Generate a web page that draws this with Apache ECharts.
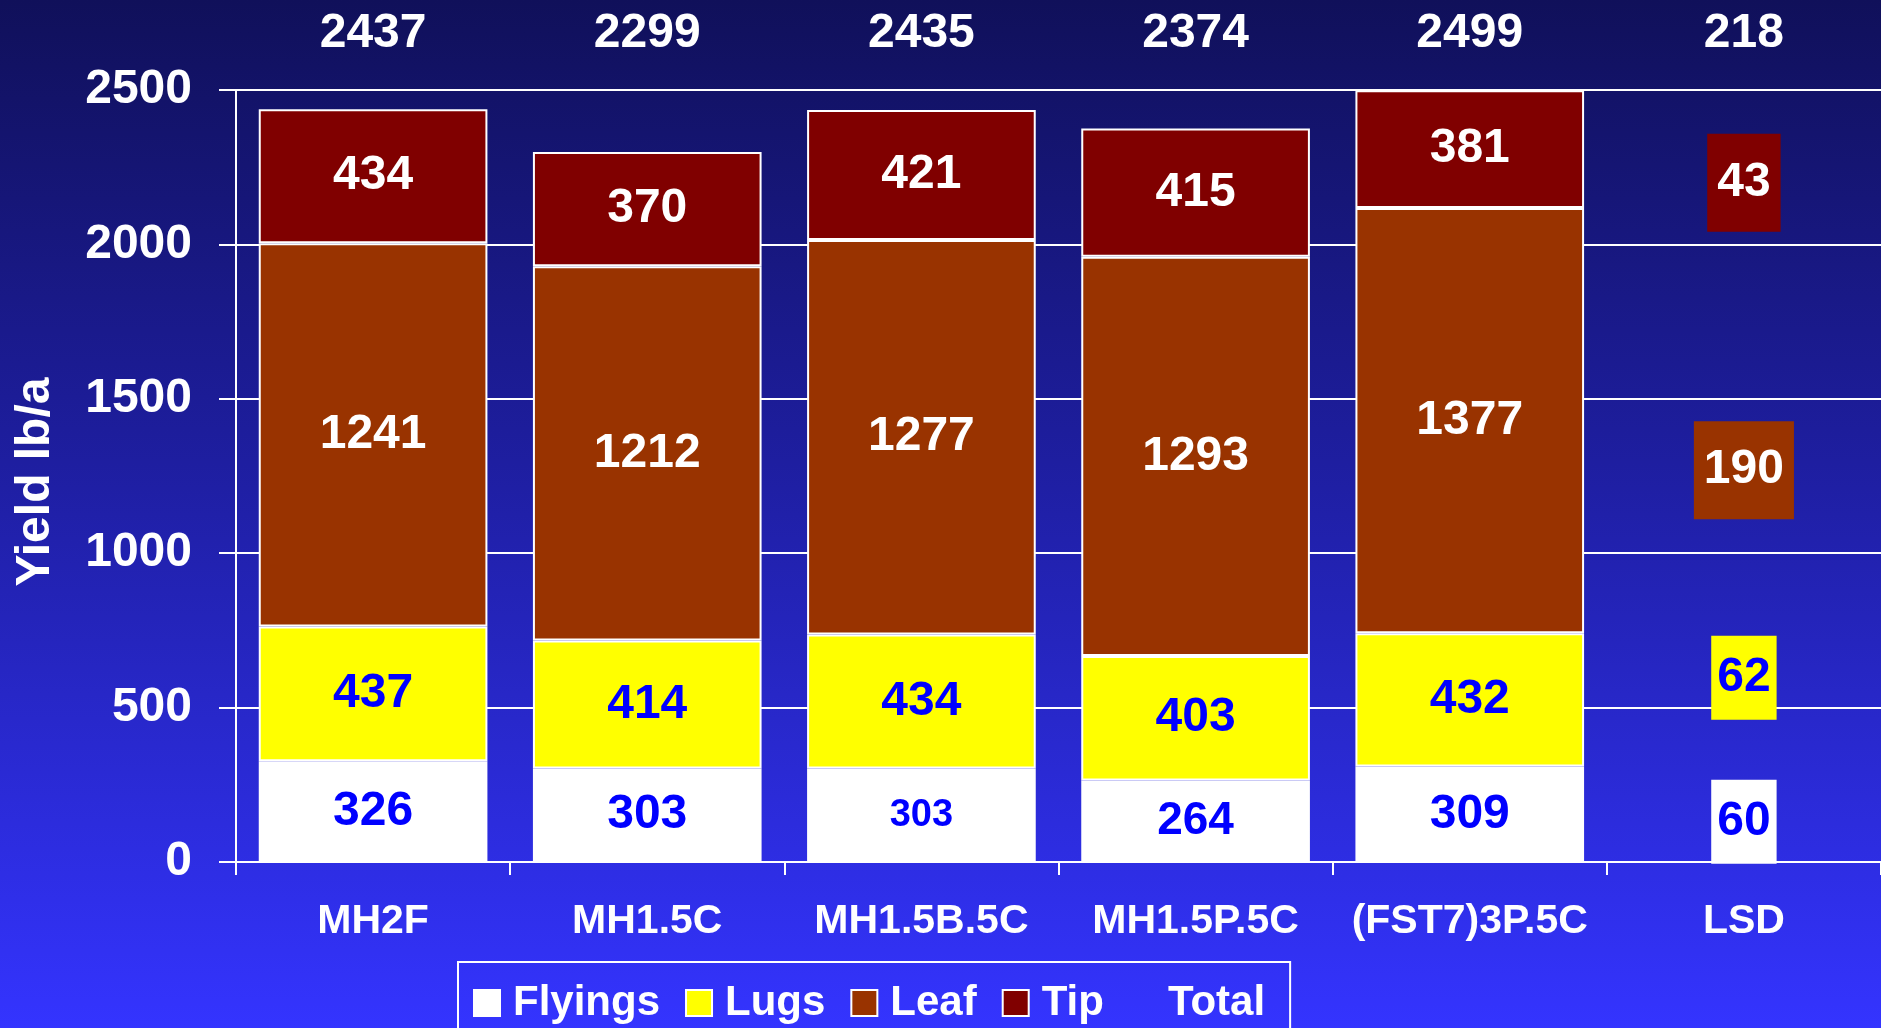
<!DOCTYPE html>
<html>
<head>
<meta charset="utf-8">
<script src="https://cdn.jsdelivr.net/npm/echarts@6/dist/echarts.min.js"></script>
<style>
  html, body { margin: 0; padding: 0; width: 100%; height: 100%; overflow: hidden; }
  body { background: linear-gradient(to bottom, #10105A 0%, #1E1EA0 45%, #3434FF 100%); }
  #chart { width: 1881px; height: 1028px; }
</style>
</head>
<body>
<div id="chart"></div>
<script>
// ---- data ----
const categories = ['MH2F', 'MH1.5C', 'MH1.5B.5C', 'MH1.5P.5C', '(FST7)3P.5C', 'LSD'];
const flyings = [326, 303, 303, 264, 309];
const lugs    = [437, 414, 434, 403, 432];
const leaf    = [1241, 1212, 1277, 1293, 1377];
const tip     = [434, 370, 421, 415, 381];
const totals  = [2437, 2299, 2435, 2374, 2499, 218];
const lsd     = [60, 62, 190, 43];   // LSD for Flyings, Lugs, Leaf, Tip
const yTicks  = { min: 0, max: 2500, interval: 500 };

// ---- layout (label anchor heights for the LSD boxes, in axis units) ----
const lsdLabelAt = [130, 597, 1269, 2200];
const lsdPadding = [[18, 6], [18, 6], [25, 10], [25, 10]];

const FONT = "'Liberation Sans', Arial, sans-serif";
const colors = { Flyings: '#FFFFFF', Lugs: '#FFFF00', Leaf: '#993300', Tip: '#800000' };
const labelColors = { Flyings: '#0000FF', Lugs: '#0000FF', Leaf: '#FFFFFF', Tip: '#FFFFFF' };
const labelSize = { Flyings: [48, 48, 38, 46, 48], Lugs: [48,48,48,48,48], Leaf: [48,48,48,48,48], Tip: [48,48,48,48,48] };

function barSeries(name, values) {
  return {
    name: name,
    type: 'bar',
    stack: 'yield',
    barWidth: '83.4%',
    itemStyle: { color: colors[name], borderColor: '#FFFFFF', borderWidth: 2 },
    label: {
      show: true, position: 'inside', color: labelColors[name],
      fontFamily: FONT, fontWeight: 'bold', fontSize: 48
    },
    data: values.map((v, i) => ({
      value: v,
      label: { fontSize: labelSize[name][i] }
    })).concat(['-'])
  };
}

const lsdNames = ['Flyings', 'Lugs', 'Leaf', 'Tip'];
const lsdSeries = {
  name: 'LSDvals',
  type: 'scatter',
  symbolSize: 0,
  silent: true,
  clip: false,
  itemStyle: { opacity: 1 },
  data: lsd.map((v, i) => ({
    value: [categories.length - 1, lsdLabelAt[i]],
    label: {
      show: true, position: 'inside',
      formatter: String(v),
      color: labelColors[lsdNames[i]],
      backgroundColor: colors[lsdNames[i]],
      padding: lsdPadding[i],
      lineHeight: 48,
      opacity: 1,
      fontFamily: FONT, fontWeight: 'bold', fontSize: 48
    }
  }))
};

const totalSeries = {
  name: 'Total',
  type: 'scatter',
  xAxisIndex: 1,
  symbolSize: 0,
  silent: true,
  itemStyle: { color: 'rgba(0,0,0,0)' },
  data: totals.map((v, i) => [i, v])
};

const chart = echarts.init(document.getElementById('chart'), null, { renderer: 'canvas' });
chart.setOption({
  backgroundColor: 'transparent',
  animation: false,
  textStyle: { fontFamily: FONT },
  grid: { left: 236, right: 0, top: 90, bottom: 166, containLabel: false, outerBoundsMode: 'none' },
  legend: {
    left: 458, top: 962,
    orient: 'horizontal',
    itemWidth: 26, itemHeight: 26, itemGap: 25,
    borderColor: '#FFFFFF', borderWidth: 2,
    padding: [20, 25, 40, 15],
    icon: 'rect',
    textStyle: { color: '#FFFFFF', fontSize: 42, fontWeight: 'bold', fontFamily: FONT, padding: [0, 0, 0, 8] },
    data: ['Flyings', 'Lugs', 'Leaf', 'Tip', { name: 'Total', itemStyle: { opacity: 0 } }]
  },
  xAxis: [
    {
      type: 'category',
      data: categories,
      position: 'bottom',
      boundaryGap: true,
      axisLine: { show: true, lineStyle: { color: '#FFFFFF', width: 2 } },
      axisTick: { show: true, interval: 0, length: 13, lineStyle: { color: '#FFFFFF', width: 2 } },
      axisLabel: { interval: 0, color: '#FFFFFF', fontSize: 41, fontWeight: 'bold', fontFamily: FONT, margin: 39 }
    },
    {
      type: 'category',
      data: totals.map(String),
      position: 'top',
      boundaryGap: true,
      axisLine: { show: false },
      axisTick: { show: false },
      axisLabel: { interval: 0, color: '#FFFFFF', fontSize: 48, fontWeight: 'bold', fontFamily: FONT, margin: 32 }
    }
  ],
  yAxis: {
    type: 'value',
    min: yTicks.min, max: yTicks.max, interval: yTicks.interval,
    name: 'Yield lb/a',
    nameLocation: 'middle',
    nameGap: 176,
    nameTextStyle: { color: '#FFFFFF', fontSize: 48, fontWeight: 'bold', fontFamily: FONT, padding: [0, 12, 0, 0] },
    axisLine: { show: true, lineStyle: { color: '#FFFFFF', width: 2 } },
    axisTick: { show: true, length: 17, lineStyle: { color: '#FFFFFF', width: 2 } },
    axisLabel: { color: '#FFFFFF', fontSize: 48, fontWeight: 'bold', fontFamily: FONT, margin: 44,
                 formatter: v => String(v) },
    splitLine: { show: true, lineStyle: { color: '#FFFFFF', width: 2 } }
  },
  series: [
    barSeries('Flyings', flyings),
    barSeries('Lugs', lugs),
    barSeries('Leaf', leaf),
    barSeries('Tip', tip),
    lsdSeries,
    totalSeries
  ]
});
</script>
</body>
</html>
